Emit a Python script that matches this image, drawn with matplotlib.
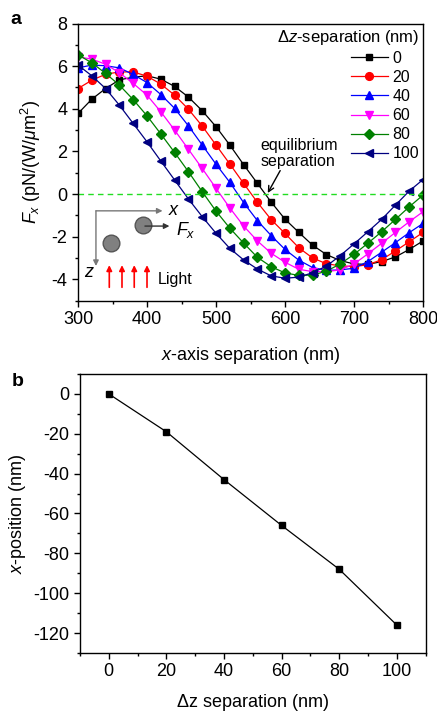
import matplotlib
matplotlib.use('Agg')
import matplotlib.pyplot as plt
from matplotlib.ticker import MultipleLocator

plt.rcParams['font.family'] = ['Liberation Sans', 'DejaVu Sans']
plt.rcParams['mathtext.fontset'] = 'custom'
plt.rcParams['mathtext.rm'] = 'Liberation Sans'
plt.rcParams['mathtext.it'] = 'Liberation Sans:italic'
plt.rcParams['axes.unicode_minus'] = False

# panel a: force vs x-axis separation for several dz separations
x_sep = [300, 320, 340, 360, 380, 400, 420, 440, 460, 480, 500, 520, 540,
         560, 580, 600, 620, 640, 660, 680, 700, 720, 740, 760, 780, 800]
dz_labels = ['0', '20', '40', '60', '80', '100']
fx_0 = [3.78, 4.45, 4.95, 5.36, 5.48, 5.55, 5.39, 5.05, 4.55, 3.91, 3.16, 2.30, 1.38,
        0.50, -0.38, -1.18, -1.80, -2.40, -2.84, -3.12, -3.28, -3.30, -3.17, -2.95, -2.60, -2.20]
fx_20 = [4.95, 5.34, 5.62, 5.73, 5.73, 5.53, 5.16, 4.64, 3.98, 3.19, 2.30, 1.41, 0.50,
         -0.39, -1.20, -1.85, -2.52, -3.00, -3.27, -3.37, -3.40, -3.32, -3.08, -2.67, -2.24, -1.80]
fx_40 = [5.92, 6.05, 6.02, 5.92, 5.61, 5.23, 4.67, 4.02, 3.20, 2.30, 1.40, 0.55, -0.40,
         -1.25, -1.95, -2.60, -3.10, -3.45, -3.58, -3.56, -3.48, -3.17, -2.73, -2.28, -1.81, -1.38]
fx_60 = [6.44, 6.33, 6.09, 5.69, 5.19, 4.64, 3.86, 3.00, 2.10, 1.20, 0.27, -0.65, -1.50,
         -2.20, -2.78, -3.20, -3.53, -3.64, -3.64, -3.56, -3.28, -2.81, -2.31, -1.80, -1.30, -0.83]
fx_80 = [6.53, 6.16, 5.66, 5.11, 4.43, 3.67, 2.82, 1.95, 1.05, 0.11, -0.80, -1.60, -2.30,
         -2.97, -3.41, -3.70, -3.82, -3.80, -3.62, -3.28, -2.83, -2.31, -1.77, -1.19, -0.60, -0.05]
fx_100 = [6.05, 5.55, 4.95, 4.17, 3.31, 2.45, 1.55, 0.66, -0.23, -1.06, -1.84, -2.55, -3.09,
          -3.52, -3.84, -3.95, -3.90, -3.69, -3.38, -2.89, -2.34, -1.77, -1.19, -0.52, 0.14, 0.68]
fx_all = [fx_0, fx_20, fx_40, fx_60, fx_80, fx_100]

colors = ['black', 'red', 'blue', 'magenta', 'green', 'navy']
markers = ['s', 'o', '^', 'v', 'D', '<']
msizes = [4.8, 5.6, 5.8, 5.8, 4.6, 5.8]

# panel b: equilibrium x-position vs dz separation
dz = [0, 20, 40, 60, 80, 100]
x_pos = [0, -19, -43, -66, -88, -116]

fig = plt.figure(figsize=(4.37, 7.11), dpi=100)
ax1 = fig.add_axes([0.1785, 0.5772, 0.7895, 0.3897])
ax2 = fig.add_axes([0.183, 0.0816, 0.791, 0.3924])

for ax in (ax1, ax2):
    ax.tick_params(which='both', direction='out', labelsize=13, top=False, right=False)
    ax.tick_params(which='major', length=4, width=1)
    ax.tick_params(which='minor', length=2.5, width=1)
    for s in ax.spines.values():
        s.set_linewidth(1)

for fx, c, m, ms, lab in zip(fx_all, colors, markers, msizes, dz_labels):
    ax1.plot(x_sep, fx, color=c, marker=m, markersize=ms, lw=0.9, label=lab)

ax1.axhline(0, color='#22dd22', ls='--', lw=1, dashes=(4, 3))
ax1.set_xlim(300, 800)
ax1.set_ylim(-5, 8)
ax1.xaxis.set_major_locator(MultipleLocator(100))
ax1.xaxis.set_minor_locator(MultipleLocator(50))
ax1.yaxis.set_major_locator(MultipleLocator(2))
ax1.yaxis.set_minor_locator(MultipleLocator(1))
ax1.set_xlabel('$x$-axis separation (nm)', fontsize=13, labelpad=12)
ax1.set_ylabel('$F_x$ (pN/(W/$\\mu$m$^2$)', fontsize=13, labelpad=6)

leg = ax1.legend(title='$\\Delta$$z$-separation (nm)', loc='upper right', frameon=False,
                 fontsize=11.5, title_fontsize=12, handlelength=2.3, labelspacing=0.26,
                 handletextpad=0.3, borderaxespad=0.05, borderpad=0.2, alignment='right')

# equilibrium annotation
ax1.text(0.53, 0.53, 'equilibrium\nseparation', transform=ax1.transAxes,
         fontsize=11.5, ha='left', va='center', linespacing=1.1)
ax1.annotate('', xy=(575, 0.05), xytext=(593, 1.1),
             arrowprops=dict(arrowstyle='->', color='black', lw=1, shrinkA=0, shrinkB=0))

# inset sketch
gray = '#777777'
arr = dict(arrowstyle='-|>', lw=1, mutation_scale=8, shrinkA=0, shrinkB=0)
ax1.annotate('', xy=(0.245, 0.324), xytext=(0.052, 0.324), xycoords='axes fraction',
             arrowprops=dict(arr, color=gray))
ax1.annotate('', xy=(0.052, 0.125), xytext=(0.052, 0.324), xycoords='axes fraction',
             arrowprops=dict(arr, color=gray))
ax1.text(0.26, 0.324, '$x$', transform=ax1.transAxes, fontsize=13, va='center')
ax1.text(0.032, 0.10, '$z$', transform=ax1.transAxes, fontsize=13, va='center', ha='center')
ax1.plot([0.189, 0.0957], [0.273, 0.209], 'o', transform=ax1.transAxes, markersize=12,
         color='#808080', markeredgecolor='#555555', clip_on=False)
ax1.annotate('', xy=(0.265, 0.269), xytext=(0.194, 0.269), xycoords='axes fraction',
             arrowprops=dict(arr, color='#333333'))
ax1.text(0.285, 0.255, '$F_x$', transform=ax1.transAxes, fontsize=13, va='center')
for xa in [0.0907, 0.1275, 0.163, 0.2]:
    ax1.annotate('', xy=(xa, 0.128), xytext=(xa, 0.048), xycoords='axes fraction',
                 arrowprops=dict(arr, color='red', lw=1.2))
ax1.text(0.232, 0.075, 'Light', transform=ax1.transAxes, fontsize=11.5, va='center')

# panel b
ax2.plot(dz, x_pos, color='black', marker='s', markersize=5, lw=0.9)
ax2.set_xlim(-10, 110)
ax2.set_ylim(-130, 10)
ax2.xaxis.set_major_locator(MultipleLocator(20))
ax2.xaxis.set_minor_locator(MultipleLocator(10))
ax2.yaxis.set_major_locator(MultipleLocator(20))
ax2.yaxis.set_minor_locator(MultipleLocator(10))
ax2.set_xlabel('$\\Delta$z separation (nm)', fontsize=13, labelpad=8)
ax2.set_ylabel('$x$-position (nm)', fontsize=13, labelpad=4)

fig.text(0.023, 0.985, 'a', fontsize=14, fontweight='bold', va='top')
fig.text(0.027, 0.475, 'b', fontsize=14, fontweight='bold', va='top')

fig.savefig('out.png', dpi=100)
